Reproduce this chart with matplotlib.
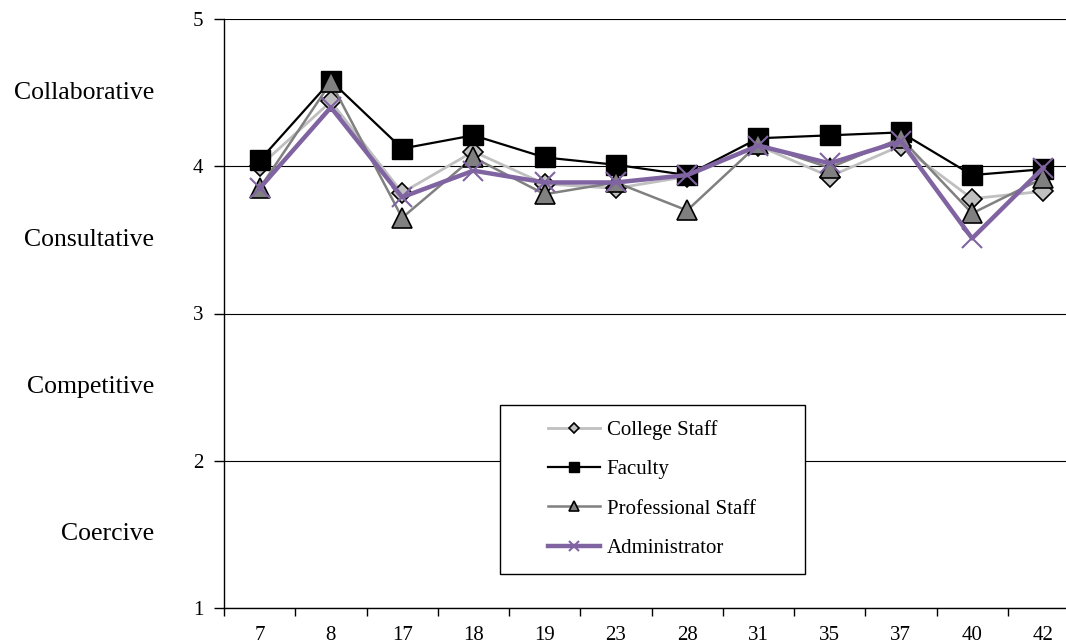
import matplotlib
matplotlib.use("Agg")
import matplotlib.pyplot as plt
import matplotlib.transforms as mtransforms
from matplotlib.patches import Rectangle
import numpy as np

plt.rcParams['font.family'] = ['Liberation Serif', 'DejaVu Serif']

items = ['7', '8', '17', '18', '19', '23', '28', '31', '35', '37', '40', '42']
college_staff = [4.00, 4.44, 3.82, 4.10, 3.88, 3.85, 3.93, 4.14, 3.93, 4.14, 3.78, 3.83]
faculty = [4.04, 4.58, 4.12, 4.21, 4.06, 4.01, 3.94, 4.19, 4.21, 4.23, 3.94, 3.98]
professional_staff = [3.85, 4.57, 3.65, 4.06, 3.81, 3.89, 3.70, 4.15, 3.99, 4.19, 3.68, 3.92]
administrator = [3.85, 4.40, 3.79, 3.97, 3.89, 3.89, 3.94, 4.14, 4.02, 4.17, 3.51, 3.99]
styles = ['Collaborative', 'Consultative', 'Competitive', 'Coercive']
style_y = [4.5, 3.5, 2.5, 1.5]

W, H = 1066, 644
fig = plt.figure(figsize=(W / 100, H / 100), dpi=100)
ax = fig.add_axes([224 / W, 36 / H, 855 / W, 589 / H])

x = np.arange(len(items))

ax.plot(x, college_staff, color='#c0c0c0', lw=2, marker='D', markersize=10,
        markerfacecolor='#c0c0c0', markeredgecolor='black', markeredgewidth=1.2,
        label='College Staff', zorder=3)
ax.plot(x, faculty, color='black', lw=1.6, marker='s', markersize=14,
        markerfacecolor='black', markeredgecolor='black',
        label='Faculty', zorder=3)
ax.plot(x, professional_staff, color='#808080', lw=1.8, marker='^', markersize=14,
        markerfacecolor='#808080', markeredgecolor='black', markeredgewidth=1.2,
        label='Professional Staff', zorder=3)
ax.plot(x, administrator, color='#8064a2', lw=3.2, marker='x', markersize=14,
        markeredgewidth=1.5, label='Administrator', zorder=3)

ax.set_xlim(-0.5, len(items) - 0.5)
ax.set_ylim(1, 5)
ax.set_yticks([1, 2, 3, 4, 5])
ax.yaxis.grid(True, color='black', lw=0.8)
ax.set_axisbelow(True)

ax.set_xticks(x)
ax.set_xticklabels(items)
ax.set_xticks(np.arange(-0.5, len(items)), minor=True)
ax.tick_params(axis='x', which='major', length=0, pad=13, labelsize=15)
ax.tick_params(axis='x', which='minor', length=6, width=1, direction='out')
ax.tick_params(axis='y', length=7, width=1, pad=8, labelsize=15)

for side in ['top', 'right']:
    ax.spines[side].set_visible(False)
ax.spines['left'].set_linewidth(1)
ax.spines['bottom'].set_linewidth(1)

trans = mtransforms.blended_transform_factory(fig.transFigure, ax.transData)
for name, yv in zip(styles, style_y):
    fig.text(154 / W, yv, name, transform=trans, ha='right', va='center', fontsize=18.5)

# legend box drawn separately so the entries can sit centred with wide side margins
box = Rectangle((500 / W, 1 - 574 / H), 305 / W, 169 / H, transform=fig.transFigure,
                facecolor='white', edgecolor='black', lw=1, zorder=5)
fig.add_artist(box)
leg = fig.legend(loc='center', bbox_to_anchor=(652 / W, 1 - 489 / H), frameon=False,
                 fontsize=15, handlelength=2.5, handletextpad=0.3, labelspacing=0.95,
                 markerscale=0.55)
leg.set_zorder(6)

fig.savefig('out.png', dpi=100)
